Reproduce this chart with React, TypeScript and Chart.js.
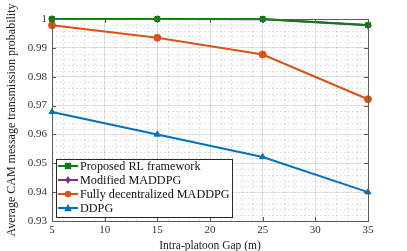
import React, { useEffect, useRef } from "react";
import { Chart, registerables } from "chart.js";

Chart.register(...registerables);

const gaps = [5, 15, 25, 35];
const proposedRL = [1.0, 1.0, 1.0, 0.9979];
const modifiedMADDPG = [1.0, 1.0, 0.9999, 0.9978];
const fullyDecentralized = [0.9978, 0.9935, 0.9877, 0.9722];
const ddpg = [0.9678, 0.96, 0.9522, 0.94];
const seriesLabels = ["Proposed RL framework", "Modified MADDPG", "Fully decentralized MADDPG", "DDPG"];
const yTicks = [0.93, 0.94, 0.95, 0.96, 0.97, 0.98, 0.99, 1];
const xTicks = [5, 10, 15, 20, 25, 30, 35];

const GREEN = "rgb(15,125,15)";
const PURPLE = "rgb(126,47,142)";
const ORANGE = "rgb(217,83,25)";
const BLUE = "rgb(0,114,189)";
const FONT = "'Liberation Serif', 'DejaVu Serif', serif";

const decorPlugin = {
  id: "decor",
  beforeDatasetsDraw(chart: any) {
    const { ctx, chartArea: a, scales } = chart;
    const xs = scales.x;
    const ys = scales.y;
    ctx.save();
    // minor grid
    ctx.strokeStyle = "rgba(0,0,0,0.11)";
    ctx.lineWidth = 1;
    ctx.setLineDash([2, 2]);
    for (let v = 5; v <= 35; v += 1) {
      if (v % 5 === 0) continue;
      const px = Math.round(xs.getPixelForValue(v)) + 0.5;
      ctx.beginPath();
      ctx.moveTo(px, a.top);
      ctx.lineTo(px, a.bottom);
      ctx.stroke();
    }
    for (let i = 0; i <= 35; i++) {
      if (i % 5 === 0) continue;
      const v = 0.93 + i * 0.002;
      const py = Math.round(ys.getPixelForValue(v)) + 0.5;
      ctx.beginPath();
      ctx.moveTo(a.left, py);
      ctx.lineTo(a.right, py);
      ctx.stroke();
    }
    ctx.setLineDash([]);
    ctx.restore();
  },
  afterDatasetsDraw(chart: any) {
    const { ctx, chartArea: a, scales } = chart;
    const xs = scales.x;
    const ys = scales.y;
    ctx.save();
    ctx.strokeStyle = "rgb(90,90,90)";
    ctx.lineWidth = 1;
    ctx.strokeRect(Math.round(a.left) + 0.5, Math.round(a.top) + 0.5, Math.round(a.right - a.left), Math.round(a.bottom - a.top));
    const tl = 4;
    xTicks.forEach((v) => {
      const px = Math.round(xs.getPixelForValue(v)) + 0.5;
      ctx.beginPath();
      ctx.moveTo(px, a.bottom);
      ctx.lineTo(px, a.bottom - tl);
      ctx.moveTo(px, a.top);
      ctx.lineTo(px, a.top + tl);
      ctx.stroke();
    });
    yTicks.forEach((v) => {
      const py = Math.round(ys.getPixelForValue(v)) + 0.5;
      ctx.beginPath();
      ctx.moveTo(a.left, py);
      ctx.lineTo(a.left + tl, py);
      ctx.moveTo(a.right, py);
      ctx.lineTo(a.right - tl, py);
      ctx.stroke();
    });
    ctx.restore();
  },
  afterDraw(chart: any) {
    const { ctx, chartArea: a } = chart;
    ctx.save();
    const bx = a.left + 4;
    const by = a.bottom - 62;
    const bw = 176;
    const bh = 58;
    ctx.fillStyle = "#fff";
    ctx.fillRect(bx, by, bw, bh);
    ctx.strokeStyle = "rgb(40,40,40)";
    ctx.lineWidth = 1;
    ctx.strokeRect(Math.round(bx) + 0.5, Math.round(by) + 0.5, bw, bh);
    ctx.font = "12.2px " + FONT;
    ctx.textBaseline = "middle";
    ctx.textAlign = "left";
    chart.data.datasets.forEach((ds: any, i: number) => {
      const y = by + 7 + i * 14;
      ctx.strokeStyle = ds.borderColor;
      ctx.lineWidth = 2;
      ctx.beginPath();
      ctx.moveTo(bx + 2, y);
      ctx.lineTo(bx + 22, y);
      ctx.stroke();
      ctx.fillStyle = ds.borderColor;
      const cx = bx + 12;
      const r = 3.2;
      ctx.beginPath();
      if (ds.pointStyle === "rect") {
        ctx.rect(cx - r, y - r, 2 * r, 2 * r);
      } else if (ds.pointStyle === "rectRot") {
        ctx.moveTo(cx, y - r - 0.8);
        ctx.lineTo(cx + r - 0.6, y);
        ctx.lineTo(cx, y + r + 0.8);
        ctx.lineTo(cx - r + 0.6, y);
        ctx.closePath();
      } else if (ds.pointStyle === "triangle") {
        ctx.moveTo(cx, y - r - 1);
        ctx.lineTo(cx + r + 0.6, y + r);
        ctx.lineTo(cx - r - 0.6, y + r);
        ctx.closePath();
      } else {
        ctx.arc(cx, y, r, 0, Math.PI * 2);
      }
      ctx.fill();
      ctx.fillStyle = "#111";
      ctx.fillText(ds.label, bx + 24, y + 0.5);
    });
    ctx.restore();
  },
};

export default function App() {
  const ref = useRef<HTMLCanvasElement | null>(null);
  useEffect(() => {
    if (!ref.current) return;
    const mk = (label: string, data: number[], color: string, style: string) => ({
      label,
      data: data.map((v, j) => ({ x: gaps[j], y: v })),
      borderColor: color,
      backgroundColor: color,
      borderWidth: 2,
      pointStyle: style,
      pointRadius: 3.5,
      pointBorderWidth: 1,
      tension: 0,
      clip: false as any,
    });
    const chart = new Chart(ref.current, {
      type: "line",
      data: {
        datasets: [
          mk(seriesLabels[0], proposedRL, GREEN, "rect"),
          mk(seriesLabels[1], modifiedMADDPG, PURPLE, "rectRot"),
          mk(seriesLabels[2], fullyDecentralized, ORANGE, "circle"),
          mk(seriesLabels[3], ddpg, BLUE, "triangle"),
        ] as any,
      },
      options: {
        animation: false,
        responsive: false,
        maintainAspectRatio: false,
        layout: { padding: { left: 0, right: 39, top: 19, bottom: 0 } },
        plugins: { legend: { display: false }, tooltip: { enabled: false } },
        scales: {
          x: {
            type: "linear",
            min: 5,
            max: 35,
            afterBuildTicks: (s: any) => {
              s.ticks = xTicks.map((v) => ({ value: v }));
            },
            afterFit: (s: any) => {
              s.height = 30;
            },
            ticks: { font: { family: FONT, size: 11 }, color: "#333", padding: 3, maxRotation: 0 },
            grid: { color: "rgba(0,0,0,0.13)", drawTicks: false },
            border: { display: false },
            title: { display: true, text: "Intra-platoon Gap (m)", font: { family: FONT, size: 11.5 }, color: "#222", padding: { top: 0, bottom: -2 } },
          },
          y: {
            type: "linear",
            min: 0.93,
            max: 1,
            afterBuildTicks: (s: any) => {
              s.ticks = yTicks.map((v) => ({ value: v }));
            },
            afterFit: (s: any) => {
              s.width = 52;
            },
            ticks: {
              font: { family: FONT, size: 11 },
              color: "#333",
              padding: 5,
              callback: (v: any) => (Number(v) === 1 ? "1" : Number(v).toFixed(2)),
            },
            grid: { color: "rgba(0,0,0,0.13)", drawTicks: false },
            border: { display: false },
            title: { display: true, text: "Average CAM message transmission probability", font: { family: FONT, size: 12 }, color: "#222", padding: { top: 5, bottom: 0 } },
          },
        },
      },
      plugins: [decorPlugin],
    });
    return () => chart.destroy();
  }, []);
  return (
    <div style={{ position: "fixed", left: 0, top: 0, width: 407, height: 251, background: "#fff" }}>
      <canvas ref={ref} width={407} height={251} style={{ width: 407, height: 251, display: "block" }} />
    </div>
  );
}
